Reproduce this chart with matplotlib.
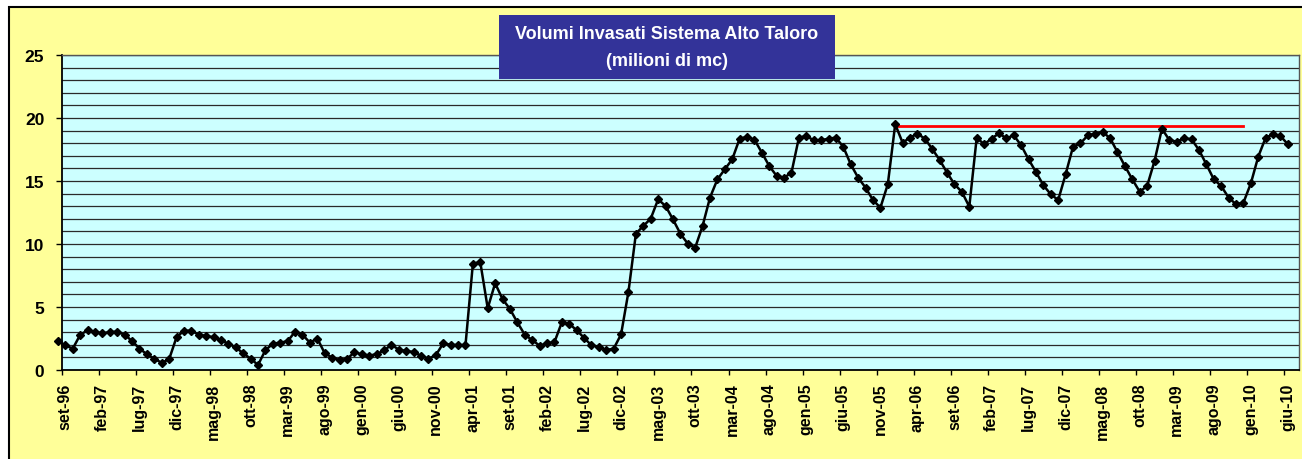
import numpy as np
import matplotlib
matplotlib.use("Agg")
import matplotlib.pyplot as plt
from matplotlib.patches import Rectangle
from matplotlib.ticker import MultipleLocator, FixedLocator

plt.rcParams['font.family'] = ['Liberation Sans', 'DejaVu Sans']

# monthly stored volume (million m3), ago-96 .. giu-10
volumi = [
    2.30, 1.95, 1.70, 2.80, 3.15, 3.02, 2.90, 3.02, 3.04, 2.80,
    2.30, 1.70, 1.25, 0.90, 0.57, 0.86, 2.60, 3.12, 3.12, 2.80,
    2.70, 2.60, 2.35, 2.10, 1.80, 1.32, 0.90, 0.40, 1.58, 2.08,
    2.18, 2.28, 3.05, 2.80, 2.17, 2.50, 1.33, 0.99, 0.78, 0.88,
    1.40, 1.25, 1.15, 1.25, 1.55, 2.00, 1.62, 1.50, 1.43, 1.13,
    0.90, 1.18, 2.12, 2.00, 1.98, 1.98, 8.45, 8.55, 4.90, 6.88,
    5.63, 4.84, 3.78, 2.80, 2.38, 1.93, 2.12, 2.20, 3.78, 3.65,
    3.17, 2.55, 1.96, 1.83, 1.59, 1.69, 2.83, 6.22, 10.82, 11.43,
    12.01, 13.54, 13.02, 11.96, 10.82, 10.03, 9.71, 11.43, 13.68, 15.13,
    15.93, 16.72, 18.36, 18.50, 18.28, 17.25, 16.19, 15.40, 15.26, 15.66,
    18.44, 18.57, 18.23, 18.23, 18.36, 18.44, 17.70, 16.32, 15.26, 14.47,
    13.49, 12.88, 14.74, 19.50, 18.04, 18.44, 18.76, 18.36, 17.54, 16.67,
    15.66, 14.74, 14.13, 12.96, 18.44, 17.91, 18.36, 18.78, 18.39, 18.62,
    17.83, 16.72, 15.71, 14.66, 13.94, 13.49, 15.53, 17.72, 17.99, 18.62,
    18.76, 18.89, 18.40, 17.30, 16.19, 15.13, 14.15, 14.60, 16.59, 19.15,
    18.25, 18.12, 18.39, 18.31, 17.46, 16.32, 15.13, 14.60, 13.68, 13.15,
    13.28, 14.81, 16.93, 18.44, 18.70, 18.57, 17.91,
]

# red reference line (max volume), gen-06 .. dic-09
soglia_valore = 19.35
soglia_da, soglia_a = "gen-06", "dic-09"

mesi = ["gen", "feb", "mar", "apr", "mag", "giu",
        "lug", "ago", "set", "ott", "nov", "dic"]

# month labels for every value, starting from ago-96
etichette_mesi = []
anno, m = 1996, 7
for _ in volumi:
    etichette_mesi.append(f"{mesi[m]}-{anno % 100:02d}")
    m += 1
    if m == 12:
        m, anno = 0, anno + 1

# axis labels every 5 months from set-96
etichette_asse = etichette_mesi[1::5]

x = np.arange(len(volumi)) - 0.5
i0 = etichette_mesi.index(soglia_da)
i1 = etichette_mesi.index(soglia_a)
x_soglia = x[i0:i1 + 1]
y_soglia = [soglia_valore] * len(x_soglia)

fig = plt.figure(figsize=(13.02, 4.6), dpi=100)
fig.patch.set_facecolor("white")

# yellow chart area with black frame
fig.add_artist(Rectangle((9 / 1302, -0.05), 1.0, 0.05 + 452 / 460,
                         transform=fig.transFigure, facecolor="#FFFF99",
                         edgecolor="black", linewidth=1.5, zorder=-5))

ax = fig.add_axes([61.7 / 1302, 89 / 460, (1299 - 61.7) / 1302, (371 - 56) / 460])
ax.set_facecolor("#CCFFFF")

ax.plot(x_soglia, y_soglia, color="#FF0000", linewidth=2.0, zorder=2)
ax.plot(x, volumi, color="black", linewidth=1.8, marker="D", markersize=4.5,
        zorder=3, clip_on=False)

ax.set_xlim(0, len(volumi))
ax.set_ylim(0, 25)

ax.yaxis.set_major_locator(MultipleLocator(5))
ax.yaxis.set_minor_locator(MultipleLocator(1))
ax.grid(True, axis="y", which="both", color="#2a2a2a", linewidth=0.9)
ax.set_axisbelow(True)

ax.xaxis.set_major_locator(FixedLocator(np.arange(0, len(volumi), 5)))
ax.xaxis.set_minor_locator(FixedLocator(np.arange(0, len(volumi) - 1, 5) + 0.5))
ax.xaxis.set_minor_formatter(plt.FixedFormatter(etichette_asse))
ax.tick_params(axis="x", which="major", labelbottom=False, length=3.5,
               width=1, direction="out", color="black")
ax.tick_params(axis="x", which="minor", length=0, pad=9, labelsize=11.5,
               labelrotation=90)
for lab in ax.get_xticklabels(minor=True):
    lab.set_fontweight("bold")

ax.tick_params(axis="y", which="major", length=4.5, width=1, pad=8,
               labelsize=12.5)
ax.tick_params(axis="y", which="minor", length=0)
for lab in ax.get_yticklabels():
    lab.set_fontweight("bold")

for s in ["top", "right"]:
    ax.spines[s].set_color("#555555")
    ax.spines[s].set_linewidth(1)
for s in ["left", "bottom"]:
    ax.spines[s].set_color("black")
    ax.spines[s].set_linewidth(1.3)

# title box
fig.add_artist(Rectangle((499 / 1302, (460 - 80) / 460), 336 / 1302, 64 / 460,
                         transform=fig.transFigure, facecolor="#333399",
                         edgecolor="none", zorder=5))
fig.text(667 / 1302, (460 - 48) / 460,
         "Volumi Invasati Sistema Alto Taloro\n(milioni di mc)",
         ha="center", va="center", color="white", fontsize=13,
         fontweight="bold", linespacing=1.7, zorder=6)

fig.savefig("out.png", dpi=100)
